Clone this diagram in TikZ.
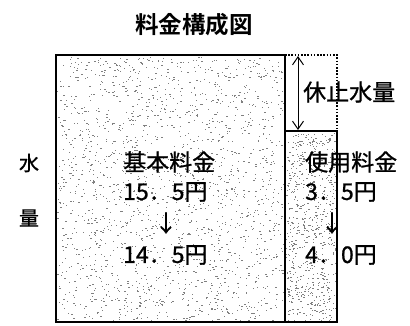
\documentclass[tikz,border=0pt]{standalone}
\usepackage{fontspec}
\setmainfont{Noto Sans CJK JP}
\newfontfamily\lblfont[FakeBold=0.9]{Noto Sans CJK JP}
\newfontfamily\titlefont{Noto Sans CJK JP Bold}
\usetikzlibrary{arrows.meta}
\begin{document}
\begin{tikzpicture}[x=1pt,y=-1pt,
  lbl/.style={font=\lblfont\fontsize{23}{22}\selectfont, inner sep=0pt},
  side/.style={font=\lblfont\fontsize{20}{20}\selectfont, inner sep=0pt},
  boxline/.style={draw=black, line width=1.1pt},
  dotline/.style={draw=black, line width=1.2pt, dash pattern=on 1.6pt off 1.6pt}]
\useasboundingbox[fill=white] (0,0) rectangle (410,325);
\pgfmathsetseed{7}
% stipple
\foreach \i in {1,...,1900}{
  \fill[black!50] ({57+227*rnd},{57+264*rnd}) rectangle +(1.3,0.9);
}
\foreach \i in {1,...,700}{
  \fill[black!50] ({286+50*rnd},{133+188*rnd}) rectangle +(1.3,0.9);
}
% boxes
\draw[boxline] (56,55) rectangle (285,322);
\draw[boxline] (285,131) rectangle (337,322);
\draw[dotline] (285,55) -- (337,55) -- (337,131);
% double arrow
\coordinate (atop) at (298,56);
\coordinate (abot) at (298,130);
\draw[line width=1pt, {Straight Barb[length=8pt,width=11pt]}-{Straight Barb[length=8pt,width=11pt]}] (atop) -- (abot);
% texts
\node[font=\titlefont\fontsize{23.5}{23}\selectfont, inner sep=0pt] (title) at (194,25) {料金構成図};
\node[lbl, anchor=west] (kyushi) at (303,92) {休止水量};
\node[side] (sui) at (29,163) {水};
\node[side] (ryo) at (29,218) {量};
\node[lbl, anchor=west] (kihon) at (123,162) {基本料金};
\node[lbl, anchor=west] (k1) at (123,192) {15．5円};
\node[lbl] (k2) at (166,223) {↓};
\node[lbl, anchor=west] (k3) at (123,255) {14．5円};
\node[lbl, anchor=west] (shiyo) at (305,162) {使用料金};
\node[lbl, anchor=west] (s1) at (305,192) {3．5円};
\node[lbl] (s2) at (332,223) {↓};
\node[lbl, anchor=west] (s3) at (305,255) {4．0円};
\end{tikzpicture}
\end{document}
